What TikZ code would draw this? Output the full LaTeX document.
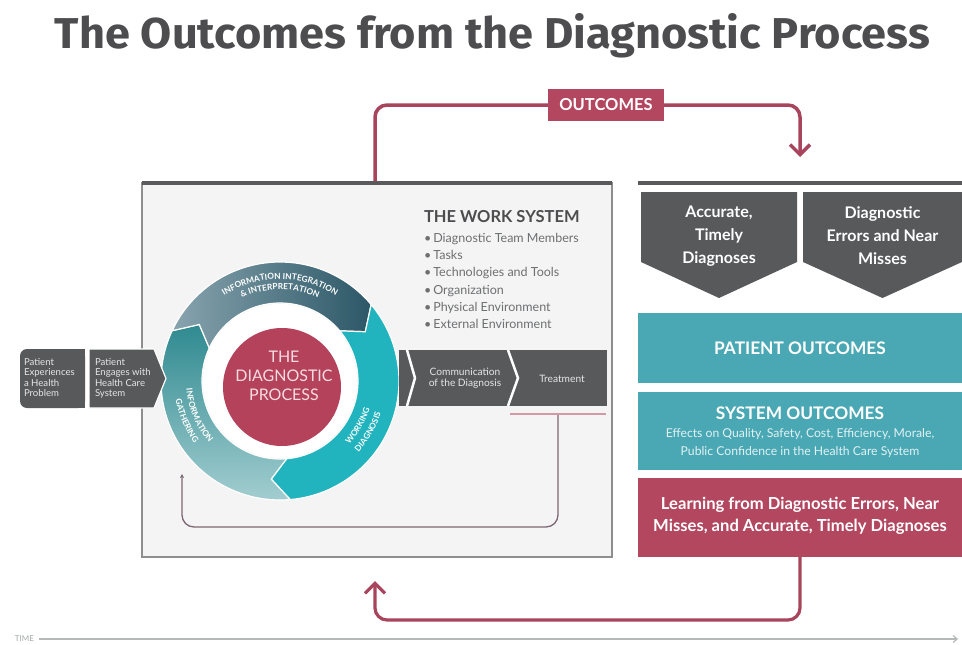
\documentclass[tikz,border=0pt]{standalone}
\usepackage{graphicx}
\usepackage{fontspec}
\setmainfont{Lato}
\newfontfamily\headfont{Fira Sans}
\usetikzlibrary{arrows.meta,decorations.text}

\definecolor{slate}{HTML}{58595B}
\definecolor{headgray}{HTML}{4D4D4F}
\definecolor{wine}{HTML}{A8455C}
\definecolor{winebox}{HTML}{B3475F}
\definecolor{tealbox}{HTML}{4AA8B5}
\definecolor{panelfill}{HTML}{F4F4F4}
\definecolor{panelline}{HTML}{8E8E8E}
\definecolor{barline}{HTML}{5A5A5C}
\definecolor{listgray}{HTML}{6E6F71}
\definecolor{core}{HTML}{B5425B}
\definecolor{corepink}{HTML}{F6DCE1}
\definecolor{loopline}{HTML}{7E6672}
\definecolor{treatline}{HTML}{D39AA6}
\definecolor{gatherdark}{HTML}{2F8A90}
\definecolor{gatherlight}{HTML}{A2CDD0}
\definecolor{integdark}{HTML}{2C5767}
\definecolor{integlight}{HTML}{88A4AF}
\definecolor{working}{HTML}{21B3BE}
\definecolor{timegray}{HTML}{A3A7A6}
\definecolor{subtext}{HTML}{E2F1F3}
\definecolor{chevwhite}{HTML}{E6E6E6}

% one arrow-shaped piece of the process ring: start angle, end angle, style
\newcommand\ringpart[3]{%
  \path[#3] plot[domain=#1:#2, samples=60] (\x:119) -- ({#2+10}:98.5) -- (#2:78)
    -- plot[domain=#2:#1, samples=60] (\x:78) -- ({#1+10}:98.5) -- cycle;}

% curved label along the ring: radius, start angle, end angle, text
\newcommand\ringlabel[4]{%
  \path[decorate, decoration={text along path, text align=center, text color=white,
    text={|\bfseries\fontsize{8.3}{9}\selectfont|#4}}]
    plot[domain=#2:#3, samples=80] (\x:#1);}

\tikzset{
  chevtext/.style={text=chevwhite, font=\fontsize{9.6}{10.5}\selectfont, align=left},
  bandtext/.style={text=chevwhite, font=\fontsize{10.2}{11}\selectfont, align=center},
  listtext/.style={text=listgray, font=\fontsize{12.5}{15}\selectfont},
  whitehead/.style={text=white, font=\bfseries\fontsize{16}{23}\selectfont, align=center},
  bighead/.style={text=white, font=\bfseries\fontsize{17.3}{20}\selectfont},
  subline/.style={text=subtext, font=\fontsize{12.2}{18}\selectfont, align=center},
  outline/.style={wine, line width=3.5pt, rounded corners=12pt},
  barb/.style={-{Straight Barb[length=10pt,width=20pt]}}
}

\begin{document}
\begin{tikzpicture}[x=1pt,y=-1pt, every node/.style={inner sep=0pt, outer sep=0pt}]
\useasboundingbox (0,0) rectangle (962,645);
\fill[white] (0,0) rectangle (962,645);

% heading
\node[text=headgray, anchor=base] (title) at (492.5,48)
  {\resizebox{875pt}{35pt}{\headfont\bfseries The Outcomes from the Diagnostic Process}};

% work system panel
\node[draw=panelline, fill=panelfill, line width=1.3pt, anchor=north west,
  minimum width=470pt, minimum height=374pt] (panel) at (142,183) {};
\draw[barline, line width=4pt] (panel.north west) -- (panel.north east);

% outcomes column top bar
\coordinate (rbarL) at (638,183);
\coordinate (rbarR) at (962,183);
\draw[barline, line width=4pt] (rbarL) -- (rbarR);

% process ring
\begin{scope}[shift={(280,381)}]
  \ringpart{85}{205}{top color=gatherdark, bottom color=gatherlight, draw=white, line width=1.2pt}
  \ringpart{205}{320}{left color=integlight, right color=integdark, draw=white, line width=1.2pt}
  \ringpart{320}{445}{fill=working, draw=white, line width=1.2pt}
  \fill[white] (0,0) circle (77);
  \ringlabel{102}{212}{328}{INFORMATION INTEGRATION}
  \ringlabel{91.5}{212}{328}{{\&} INTERPRETATION}
  \ringlabel{94}{214}{100}{INFORMATION}
  \ringlabel{106}{214}{100}{GATHERING}
  \ringlabel{94}{86}{-26}{WORKING}
  \ringlabel{106}{86}{-26}{DIAGNOSIS}
\end{scope}
\node[circle, fill=white, minimum size=140pt] (halo) at (282,387) {};
\node[circle, fill=core, minimum size=118pt] (coreproc) at (282,387) {};
\node[text=corepink, font=\fontsize{16}{19}\selectfont, align=center] (coretxt) at (284,376)
  {THE\\DIAGNOSTIC\\PROCESS};

% work system text
\node[text=headgray, font=\bfseries\fontsize{16.5}{18}\selectfont, anchor=base west] (wshead)
  at (424,222.5) {THE WORK SYSTEM};
\foreach \entry [count=\k] in {Diagnostic Team Members, Tasks, Technologies and Tools,
    Organization, Physical Environment, External Environment}
  \node[listtext, anchor=base west] (ws\k) at (424,{242.5+17.2*(\k-1)}) {\textbullet\,\entry};

% patient steps before the process
\fill[slate, rounded corners=7pt] (20,349) rectangle (85,408);
\fill[slate] (50,349) rectangle (85,408);
\node[chevtext, anchor=north west] (experiences) at (24,358)
  {Patient\\Experiences\\a Health\\Problem};
\draw[white, line width=1.2pt, fill=slate] (89,349) -- (154,349) -- (166,378.5) -- (154,408) -- (89,408) -- cycle;
\node[chevtext, anchor=north west] (engages) at (95,358)
  {Patient\\Engages with\\Health Care\\System};

% steps after the process
\fill[slate] (399,350) rectangle (607,406);
\draw[white, line width=2.5pt] (407,350) -- (415,378) -- (407,406);
\draw[white, line width=2.5pt] (508,350) -- (518,378) -- (508,406);
\node[bandtext] (communication) at (465,378.5) {Communication\\of the Diagnosis};
\node[bandtext] (treatment) at (562,378.5) {Treatment};

% feedback loop inside the work system
\draw[treatline, line width=2pt] (510,414) -- (606,414);
\coordinate (loopstart) at (558,415);
\coordinate (loopend) at (182,474);
\draw[loopline, line width=1.3pt, rounded corners=12pt, -{Stealth[length=4pt,width=4pt]}]
  (loopstart) -- (558,527) -- (182,527) -- (loopend);

% outcome banner and its arrow
\node[fill=winebox, minimum width=116pt, minimum height=32pt, text=white,
  font=\bfseries\fontsize{16.5}{18}\selectfont] (outcomes) at (606,105) {OUTCOMES};
\coordinate (outL) at (375,181);
\coordinate (outR) at (800,157);
\draw[outline] (outL) -- (375,105) -- (outcomes.west);
\draw[outline, barb] (outcomes.east) -- (800,105) -- (outR);

% diagnosis result arrows
\fill[slate] (641,192) -- (797,192) -- (797,262) -- (719,298) -- (641,262) -- cycle;
\fill[slate] (803,192) -- (962,192) -- (962,262) -- (882.5,298) -- (803,262) -- cycle;
\node[whitehead] (accurate) at (719,236) {Accurate,\\Timely\\Diagnoses};
\node[whitehead] (errors) at (882.5,236) {Diagnostic\\Errors and Near\\Misses};

% outcome blocks
\node[fill=tealbox, anchor=north west, minimum width=324pt, minimum height=70pt] (patient) at (638,313) {};
\node[bighead] (patienttxt) at (800,348) {PATIENT OUTCOMES};
\node[fill=tealbox, anchor=north west, minimum width=324pt, minimum height=78pt] (system) at (638,392) {};
\node[bighead] (systemtxt) at (800,413) {SYSTEM OUTCOMES};
\node[subline] (systemsub) at (800,443)
  {Effects on Quality, Safety, Cost, Efficiency, Morale,\\Public Confidence in the Health Care System};
\node[fill=winebox, anchor=north west, minimum width=324pt, minimum height=79pt] (learn) at (638,478) {};
\node[text=white, font=\bfseries\fontsize{16.6}{22}\selectfont, align=center] (learntxt) at (800,516)
  {Learning from Diagnostic Errors, Near\\Misses, and Accurate, Timely Diagnoses};

% return arrow
\coordinate (back) at (375,581);
\draw[outline, line width=3.2pt, barb] (learn.south) -- (800,620) -- (375,620) -- (back);

% time axis
\node[text=timegray, font=\fontsize{8}{9}\selectfont, anchor=west] (time) at (15,639) {TIME};
\coordinate (timeend) at (958,639);
\draw[timegray!80, line width=1.2pt, shorten <=5pt, -{Straight Barb[length=4pt,width=7pt]}] (time.east) -- (timeend);
\end{tikzpicture}
\end{document}
